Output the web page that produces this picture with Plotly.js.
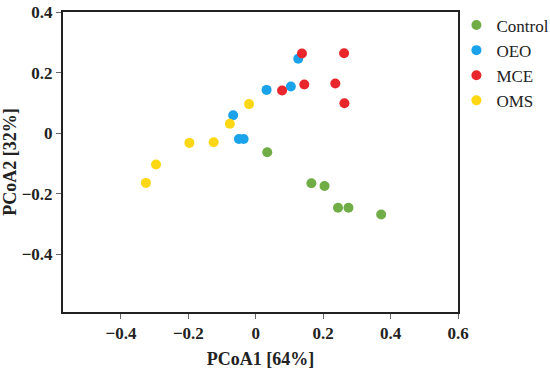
<!DOCTYPE html>
<html>
<head>
<meta charset="utf-8">
<script src="https://cdn.plot.ly/plotly-3.0.1.min.js"></script>
<style>html,body{margin:0;padding:0;background:#fff;}#chart{width:550px;height:371px;}</style>
</head>
<body>
<div id="chart"></div>
<script>
const groups = ["Control", "OEO", "MCE", "OMS"];
const colors = ["#70AD47", "#1AA3EA", "#E8262B", "#FCD714"];

const controlX = [0.034, 0.165, 0.204, 0.244, 0.275, 0.372];
const controlY = [-0.063, -0.165, -0.174, -0.246, -0.246, -0.268];

const oeoX = [0.126, 0.032, 0.104, -0.067, -0.050, -0.036];
const oeoY = [0.246, 0.143, 0.154, 0.059, -0.019, -0.019];

const mceX = [0.137, 0.262, 0.078, 0.144, 0.236, 0.263];
const mceY = [0.263, 0.264, 0.141, 0.161, 0.164, 0.099];

const omsX = [-0.020, -0.077, -0.125, -0.197, -0.296, -0.326];
const omsY = [0.096, 0.031, -0.030, -0.032, -0.103, -0.164];

const xs = [controlX, oeoX, mceX, omsX];
const ys = [controlY, oeoY, mceY, omsY];

const font = "Liberation Serif, Times New Roman, serif";

const traces = groups.map((g, i) => ({
  type: "scatter",
  mode: "markers",
  name: g,
  x: xs[i],
  y: ys[i],
  marker: {color: colors[i], size: 10}
}));

const axisCommon = {
  showgrid: false,
  zeroline: false,
  showline: true,
  linecolor: "#222",
  linewidth: 2,
  mirror: true,
  ticks: "outside",
  ticklen: 5,
  tickwidth: 1,
  tickcolor: "#666",
  dtick: 0.2,
  tick0: 0,
  tickfont: {family: font, size: 17, color: "#222", weight: "bold"}
};

const layout = {
  width: 550,
  height: 371,
  margin: {l: 63, r: 92, t: 12, b: 59, autoexpand: false},
  paper_bgcolor: "#fff",
  plot_bgcolor: "#fff",
  showlegend: true,
  legend: {
    x: 0.996, xanchor: "left", y: 1.015, yanchor: "top",
    font: {family: font, size: 17, color: "#222"},
    itemwidth: 30,
    tracegroupgap: 0,
    bgcolor: "rgba(0,0,0,0)"
  },
  xaxis: Object.assign({}, axisCommon, {
    range: [-0.572, 0.6],
    title: {text: "PCoA1 [64%]", font: {family: font, size: 18, color: "#222", weight: "bold"}, standoff: 10}
  }),
  yaxis: Object.assign({}, axisCommon, {
    range: [-0.59, 0.4],
    title: {text: "PCoA2 [32%]", font: {family: font, size: 18, color: "#222", weight: "bold"}, standoff: 2}
  })
};

Plotly.newPlot("chart", traces, layout, {displayModeBar: false, staticPlot: true});
</script>
</body>
</html>
